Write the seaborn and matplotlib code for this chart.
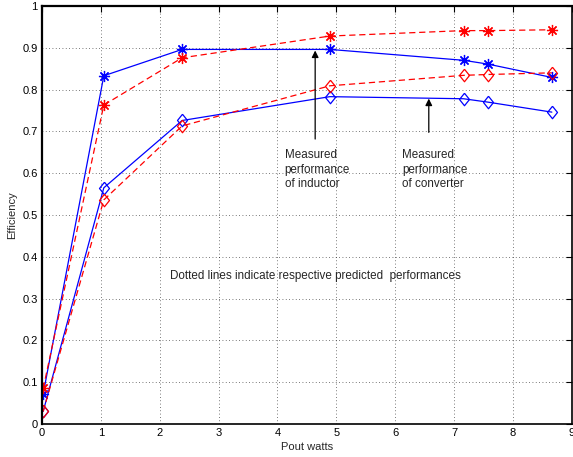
import matplotlib
matplotlib.use("Agg")
import matplotlib.pyplot as plt
import seaborn as sns
import pandas as pd

# Output power (W) at each measurement point
pout = [0.02, 1.05, 2.38, 4.89, 7.16, 7.57, 8.66]

# Efficiency series
inductor_measured = [0.072, 0.833, 0.896, 0.896, 0.870, 0.861, 0.829]
inductor_predicted = [0.085, 0.763, 0.876, 0.928, 0.941, 0.941, 0.943]
converter_measured = [0.030, 0.565, 0.726, 0.783, 0.778, 0.770, 0.746]
converter_predicted = [0.030, 0.536, 0.713, 0.809, 0.834, 0.836, 0.840]

x_ticks = [0, 1, 2, 3, 4, 5, 6, 7, 8, 9]
y_ticks = [0, 0.1, 0.2, 0.3, 0.4, 0.5, 0.6, 0.7, 0.8, 0.9, 1]

sns.set_theme(style="white")
plt.rcParams["font.family"] = ["Liberation Sans", "DejaVu Sans"]

fig = plt.figure(figsize=(5.73, 4.57), dpi=100)
ax = fig.add_axes([0.0733, 0.0722, 0.9247, 0.9148])

asterisk = (8, 2, 0)
diamond = [(0, 1), (0.8, 0), (0, -1), (-0.8, 0), (0, 1)]

series = [
    (inductor_measured, "blue", "-", asterisk, 8),
    (inductor_predicted, "red", (0, (5, 3)), asterisk, 8),
    (converter_measured, "blue", "-", diamond, 9),
    (converter_predicted, "red", (0, (5, 3)), diamond, 9),
]
for vals, col, ls, mk, ms in series:
    df = pd.DataFrame({"Pout": pout, "Eff": vals})
    sns.lineplot(data=df, x="Pout", y="Eff", ax=ax, color=col, linestyle=ls,
                 linewidth=0.9, marker=mk, markersize=ms,
                 markerfacecolor="none", markeredgecolor=col,
                 markeredgewidth=0.9, sort=False)

ax.set_xlim(0, 9)
ax.set_ylim(0, 1)
ax.set_xticks(x_ticks)
ax.set_yticks(y_ticks)
ax.set_xticklabels([str(t) for t in x_ticks])
ax.set_yticklabels(["0", "0.1", "0.2", "0.3", "0.4", "0.5", "0.6", "0.7", "0.8", "0.9", "1"])
ax.tick_params(direction="in", length=4, width=0.8, top=True, right=True,
               labelsize=8, colors="black", pad=3)
ax.grid(True, linestyle=(0, (1, 3)), color="black", linewidth=0.6, alpha=0.7)
for side in ["top", "left"]:
    ax.spines[side].set_linewidth(1.6)
for side in ["bottom", "right"]:
    ax.spines[side].set_linewidth(1.2)
for s in ax.spines.values():
    s.set_color("black")

ax.set_xlabel("Pout watts", fontsize=8, labelpad=3)
ax.set_ylabel("Efficiency", fontsize=8, labelpad=4)

ax.annotate("", xy=(4.64, 0.9), xytext=(4.64, 0.675),
            arrowprops=dict(arrowstyle="-|>", color="black", lw=0.9,
                            mutation_scale=10))
ax.text(4.12, 0.658, "Measured\nperformance\nof inductor", fontsize=8.4,
        va="top", ha="left", linespacing=1.3)
ax.annotate("", xy=(6.57, 0.785), xytext=(6.57, 0.691),
            arrowprops=dict(arrowstyle="-|>", color="black", lw=0.9,
                            mutation_scale=10))
ax.text(6.12, 0.658, "Measured\nperformance\nof converter", fontsize=8.4,
        va="top", ha="left", linespacing=1.3)
ax.text(2.17, 0.355, "Dotted lines indicate respective predicted  performances",
        fontsize=8.4, va="center", ha="left")

fig.savefig("out.png", dpi=100)
